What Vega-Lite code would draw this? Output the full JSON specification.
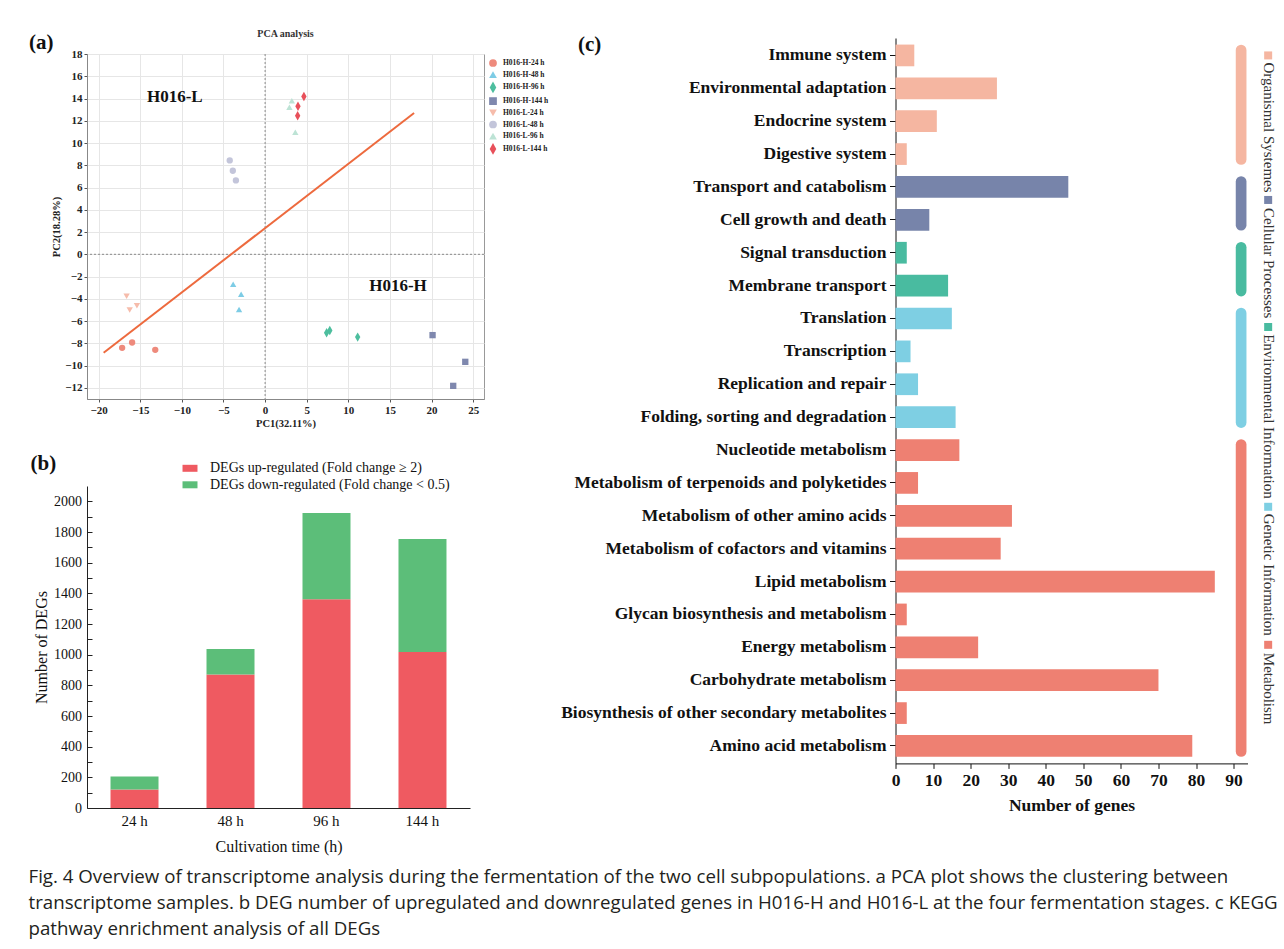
{
  "$schema": "https://vega.github.io/schema/vega-lite/v6.json",
  "background": "white",
  "padding": {"left": 28, "top": 28, "right": 4, "bottom": 4},
  "config": {
    "font": "Liberation Serif",
    "view": {"stroke": null},
    "axis": {"labelColor": "#111", "titleColor": "#111", "domainColor": "#111", "tickColor": "#111", "grid": false, "labelOverlap": false}
  },
  "title": {
    "text": [
      "Fig. 4  Overview of transcriptome analysis during the fermentation of the two cell subpopulations. a PCA plot shows the clustering between",
      "transcriptome samples. b DEG number of upregulated and downregulated genes in H016-H and H016-L at the four fermentation stages. c KEGG",
      "pathway enrichment analysis of all DEGs"
    ],
    "orient": "bottom", "anchor": "start", "frame": "bounds",
    "font": "Open Sans", "fontSize": 18.7, "fontWeight": "normal", "color": "#231f20",
    "lineHeight": 26, "offset": 14
  },
  "align": "none",
  "spacing": 5.5,
  "resolve": {"scale": {"color": "independent", "shape": "independent"}, "legend": {"color": "independent", "shape": "independent"}},
  "hconcat": [
    {
      "spacing": 24,
      "resolve": {"scale": {"color": "independent", "shape": "independent"}, "legend": {"color": "independent", "shape": "independent"}},
      "vconcat": [
        {
          "width": 397, "height": 345,
          "view": {"stroke": "#999"},
          "layer": [
            {
              "data": {"values": [
                {"sample": "H016-H-24 h", "pc1": -17.18, "pc2": -8.40},
                {"sample": "H016-H-24 h", "pc1": -15.98, "pc2": -7.92},
                {"sample": "H016-H-24 h", "pc1": -13.20, "pc2": -8.58},
                {"sample": "H016-H-48 h", "pc1": -3.84, "pc2": -2.68},
                {"sample": "H016-H-48 h", "pc1": -2.88, "pc2": -3.58},
                {"sample": "H016-H-48 h", "pc1": -3.13, "pc2": -4.95},
                {"sample": "H016-H-96 h", "pc1": 7.39, "pc2": -7.05},
                {"sample": "H016-H-96 h", "pc1": 7.77, "pc2": -6.84},
                {"sample": "H016-H-96 h", "pc1": 11.12, "pc2": -7.44},
                {"sample": "H016-H-144 h", "pc1": 20.12, "pc2": -7.26},
                {"sample": "H016-H-144 h", "pc1": 24.05, "pc2": -9.66},
                {"sample": "H016-H-144 h", "pc1": 22.60, "pc2": -11.82},
                {"sample": "H016-L-24 h", "pc1": -16.64, "pc2": -3.76},
                {"sample": "H016-L-24 h", "pc1": -16.27, "pc2": -5.01},
                {"sample": "H016-L-24 h", "pc1": -15.40, "pc2": -4.62},
                {"sample": "H016-L-48 h", "pc1": -4.25, "pc2": 8.44},
                {"sample": "H016-L-48 h", "pc1": -3.88, "pc2": 7.51},
                {"sample": "H016-L-48 h", "pc1": -3.51, "pc2": 6.64},
                {"sample": "H016-L-96 h", "pc1": 3.21, "pc2": 13.80},
                {"sample": "H016-L-96 h", "pc1": 2.92, "pc2": 13.21},
                {"sample": "H016-L-96 h", "pc1": 3.63, "pc2": 10.96},
                {"sample": "H016-L-144 h", "pc1": 4.66, "pc2": 14.19},
                {"sample": "H016-L-144 h", "pc1": 3.95, "pc2": 13.30},
                {"sample": "H016-L-144 h", "pc1": 3.91, "pc2": 12.46}
              ]},
              "mark": {"type": "point", "filled": true, "opacity": 1, "size": 40},
              "encoding": {
                "x": {"field": "pc1", "type": "quantitative",
                  "scale": {"domain": [-21.4, 26.3], "nice": false, "zero": false},
                  "axis": {"title": "PC1(32.11%)", "format": "d", "values": [-20, -15, -10, -5, 0, 5, 10, 15, 20, 25], "tickCount": 100, "labelOverlap": false,
                    "grid": true, "gridColor": "#e6e6e6", "domainColor": "#888", "tickColor": "#555", "tickSize": 3,
                    "labelFontSize": 11, "labelFontWeight": "bold", "labelPadding": 2, "labelFlush": false,
                    "titleFontSize": 10.5, "titleFontWeight": "bold", "titlePadding": 3, "labelColor": "#222", "titleColor": "#222"}},
                "y": {"field": "pc2", "type": "quantitative",
                  "scale": {"domain": [-13, 18], "nice": false, "zero": false},
                  "axis": {"title": "PC2(18.28%)", "format": "d", "values": [-12, -10, -8, -6, -4, -2, 0, 2, 4, 6, 8, 10, 12, 14, 16, 18], "tickCount": 100, "labelOverlap": false,
                    "grid": true, "gridColor": "#e6e6e6", "domainColor": "#888", "tickColor": "#555", "tickSize": 3,
                    "labelFontSize": 11, "labelFontWeight": "bold", "labelPadding": 2,
                    "titleFontSize": 10.5, "titleFontWeight": "bold", "titlePadding": 3, "labelColor": "#222", "titleColor": "#222"}},
                "color": {"field": "sample", "type": "nominal",
                  "scale": {
                    "domain": ["H016-H-24 h", "H016-H-48 h", "H016-H-96 h", "H016-H-144 h", "H016-L-24 h", "H016-L-48 h", "H016-L-96 h", "H016-L-144 h"],
                    "range": ["#EE8A7C", "#7DCCE5", "#4DBE9E", "#7F88AE", "#F6BCAB", "#C3C5DA", "#BDE3D5", "#E8505A"]},
                  "legend": {"title": null, "orient": "right", "offset": 0, "padding": 4, "labelFont": "Liberation Serif",
                    "labelFontWeight": "bold", "labelFontSize": 7.5, "labelColor": "#222", "symbolSize": 60, "rowPadding": 2.7, "labelOffset": 5}},
                "shape": {"field": "sample", "type": "nominal",
                  "scale": {
                    "domain": ["H016-H-24 h", "H016-H-48 h", "H016-H-96 h", "H016-H-144 h", "H016-L-24 h", "H016-L-48 h", "H016-L-96 h", "H016-L-144 h"],
                    "range": ["circle", "triangle-up", "M0,-1.5L0.85,0L0,1.5L-0.85,0Z", "square", "triangle-down", "circle", "triangle-up", "M0,-1.5L0.85,0L0,1.5L-0.85,0Z"]}}
              }
            },
            {
              "data": {"values": [{"zero": 0}]},
              "mark": {"type": "rule", "strokeDash": [2, 2], "color": "#8a8a8a", "strokeWidth": 1},
              "encoding": {"x": {"field": "zero", "type": "quantitative"}}
            },
            {
              "data": {"values": [{"zero": 0}]},
              "mark": {"type": "rule", "strokeDash": [2, 2], "color": "#8a8a8a", "strokeWidth": 1},
              "encoding": {"y": {"field": "zero", "type": "quantitative"}}
            },
            {
              "data": {"values": [{"pc1": -19.4, "pc2": -8.85}, {"pc1": 17.9, "pc2": 12.7}]},
              "mark": {"type": "line", "color": "#ED6A3E", "strokeWidth": 2},
              "encoding": {"x": {"field": "pc1", "type": "quantitative"}, "y": {"field": "pc2", "type": "quantitative"}}
            },
            {
              "data": {"values": [{"pc1": -10.85, "pc2": 14.16, "label": "H016-L"}, {"pc1": 15.97, "pc2": -2.83, "label": "H016-H"}]},
              "mark": {"type": "text", "fontSize": 17, "fontWeight": "bold", "baseline": "middle", "color": "#111"},
              "encoding": {"x": {"field": "pc1", "type": "quantitative"}, "y": {"field": "pc2", "type": "quantitative"}, "text": {"field": "label"}}
            },
            {
              "data": {"values": [{"label": "PCA analysis"}]},
              "mark": {"type": "text", "fontSize": 10, "fontWeight": "bold", "baseline": "middle", "dy": -20, "color": "#333"},
              "encoding": {"x": {"datum": 2.45, "type": "quantitative"}, "y": {"datum": 18, "type": "quantitative"}, "text": {"field": "label"}}
            },
            {
              "data": {"values": [{"label": "(a)"}]},
              "mark": {"type": "text", "fontSize": 21, "fontWeight": "bold", "align": "left", "baseline": "alphabetic", "dx": -58, "dy": -5, "color": "#111"},
              "encoding": {"x": {"datum": -21.4, "type": "quantitative"}, "y": {"datum": 18, "type": "quantitative"}, "text": {"field": "label"}}
            }
          ]
        },
        {
          "width": 383, "height": 322,
          "layer": [
            {
              "data": {"values": [
                {"time": "24 h", "type": "DEGs up-regulated (Fold change ≥ 2)", "count": 120},
                {"time": "24 h", "type": "DEGs down-regulated (Fold change < 0.5)", "count": 85},
                {"time": "48 h", "type": "DEGs up-regulated (Fold change ≥ 2)", "count": 870},
                {"time": "48 h", "type": "DEGs down-regulated (Fold change < 0.5)", "count": 167},
                {"time": "96 h", "type": "DEGs up-regulated (Fold change ≥ 2)", "count": 1361},
                {"time": "96 h", "type": "DEGs down-regulated (Fold change < 0.5)", "count": 563},
                {"time": "144 h", "type": "DEGs up-regulated (Fold change ≥ 2)", "count": 1017},
                {"time": "144 h", "type": "DEGs down-regulated (Fold change < 0.5)", "count": 737}
              ]},
              "mark": {"type": "bar"},
              "encoding": {
                "x": {"field": "time", "type": "nominal", "sort": ["24 h", "48 h", "96 h", "144 h"],
                  "scale": {"paddingInner": 0.5, "paddingOuter": 0.245},
                  "axis": {"title": "Cultivation time (h)", "labelAngle": 0, "ticks": false, "labelFontSize": 15, "labelPadding": 5,
                    "titleFontSize": 16, "titleFontWeight": "normal", "titlePadding": 10, "domainColor": "#222"}},
                "y": {"field": "count", "type": "quantitative", "stack": "zero",
                  "scale": {"domain": [0, 2100], "nice": false},
                  "axis": {"title": "Number of DEGs", "format": "d", "labelOverlap": false, "tickCount": 100,
                    "values": [0, 100, 200, 300, 400, 500, 600, 700, 800, 900, 1000, 1100, 1200, 1300, 1400, 1500, 1600, 1700, 1800, 1900, 2000],
                    "labelExpr": "datum.value % 200 === 0 ? datum.label : ''",
                    "tickSize": -5, "labelPadding": 10.5, "labelFontSize": 14, "titleFontSize": 16, "titleFontWeight": "normal", "titlePadding": 4,
                    "domainColor": "#222", "tickColor": "#222"}},
                "color": {"field": "type", "type": "nominal",
                  "scale": {"domain": ["DEGs up-regulated (Fold change ≥ 2)", "DEGs down-regulated (Fold change < 0.5)"], "range": ["#EF5A61", "#5CBE79"]},
                  "legend": {"title": null, "orient": "none", "legendX": 96, "legendY": -24.7, "padding": 0,
                    "symbolType": "M-1.07,-0.5H1.07V0.5H-1.07Z", "symbolSize": 196, "symbolStrokeWidth": 0,
                    "labelFontSize": 14, "labelOffset": 13, "rowPadding": 2.5, "labelColor": "#111", "labelFont": "Liberation Serif", "labelLimit": 400}},
                "order": {"field": "type", "sort": "descending"}
              }
            },
            {
              "data": {"values": [{"label": "(b)"}]},
              "mark": {"type": "text", "fontSize": 21, "fontWeight": "bold", "align": "left", "baseline": "alphabetic", "dx": -104, "dy": -16, "color": "#111"},
              "encoding": {"x": {"datum": "24 h", "type": "nominal"}, "y": {"datum": 2100, "type": "quantitative"}, "text": {"field": "label"}}
            }
          ]
        }
      ]
    },
    {
      "width": 352, "height": 709.4,
      "layer": [
        {
          "data": {"values": [
            {"pathway": "Immune system", "group": "Organismal Systemes", "genes": 5},
            {"pathway": "Environmental adaptation", "group": "Organismal Systemes", "genes": 27},
            {"pathway": "Endocrine system", "group": "Organismal Systemes", "genes": 11},
            {"pathway": "Digestive system", "group": "Organismal Systemes", "genes": 3},
            {"pathway": "Transport and catabolism", "group": "Cellular Processes", "genes": 46},
            {"pathway": "Cell growth and death", "group": "Cellular Processes", "genes": 9},
            {"pathway": "Signal transduction", "group": "Environmental Information", "genes": 3},
            {"pathway": "Membrane transport", "group": "Environmental Information", "genes": 14},
            {"pathway": "Translation", "group": "Genetic Information", "genes": 15},
            {"pathway": "Transcription", "group": "Genetic Information", "genes": 4},
            {"pathway": "Replication and repair", "group": "Genetic Information", "genes": 6},
            {"pathway": "Folding, sorting and degradation", "group": "Genetic Information", "genes": 16},
            {"pathway": "Nucleotide metabolism", "group": "Metabolism", "genes": 17},
            {"pathway": "Metabolism of terpenoids and polyketides", "group": "Metabolism", "genes": 6},
            {"pathway": "Metabolism of other amino acids", "group": "Metabolism", "genes": 31},
            {"pathway": "Metabolism of cofactors and vitamins", "group": "Metabolism", "genes": 28},
            {"pathway": "Lipid metabolism", "group": "Metabolism", "genes": 85},
            {"pathway": "Glycan biosynthesis and metabolism", "group": "Metabolism", "genes": 3},
            {"pathway": "Energy metabolism", "group": "Metabolism", "genes": 22},
            {"pathway": "Carbohydrate metabolism", "group": "Metabolism", "genes": 70},
            {"pathway": "Biosynthesis of other secondary metabolites", "group": "Metabolism", "genes": 3},
            {"pathway": "Amino acid metabolism", "group": "Metabolism", "genes": 79}
          ]},
          "mark": {"type": "bar"},
          "encoding": {
            "y": {"field": "pathway", "type": "nominal", "sort": null,
              "scale": {"domain": ["Immune system", "Environmental adaptation", "Endocrine system", "Digestive system", "Transport and catabolism", "Cell growth and death", "Signal transduction", "Membrane transport", "Translation", "Transcription", "Replication and repair", "Folding, sorting and degradation", "Nucleotide metabolism", "Metabolism of terpenoids and polyketides", "Metabolism of other amino acids", "Metabolism of cofactors and vitamins", "Lipid metabolism", "Glycan biosynthesis and metabolism", "Energy metabolism", "Carbohydrate metabolism", "Biosynthesis of other secondary metabolites", "Amino acid metabolism"],
                "range": [-16, 709.4], "paddingInner": 0.34, "paddingOuter": 0.2},
              "axis": {"title": null, "labelFontSize": 17.5, "labelFontWeight": "bold", "labelPadding": 3.5, "tickSize": 6, "labelLimit": 400, "labelOverlap": false,
                "domainColor": "#111", "tickColor": "#111", "labelColor": "#111"}},
            "x": {"field": "genes", "type": "quantitative",
              "scale": {"domain": [0, 93.7], "nice": false},
              "axis": {"title": "Number of genes", "format": "d", "values": [0, 10, 20, 30, 40, 50, 60, 70, 80, 90], "tickCount": 100, "labelFlush": false, "labelOverlap": false,
                "labelFontSize": 17.5, "labelFontWeight": "bold", "titleFontSize": 17.5, "titleFontWeight": "bold",
                "tickSize": 5, "labelPadding": 3, "titlePadding": 8, "domainColor": "#111", "tickColor": "#111"}},
            "color": {"field": "group", "type": "nominal",
              "scale": {"domain": ["Organismal Systemes", "Cellular Processes", "Environmental Information", "Genetic Information", "Metabolism"],
                "range": ["#F5B6A1", "#7784AA", "#49BBA0", "#7ECFE3", "#EE8072"]},
              "legend": null}
          }
        },
        {
          "data": {"values": [
            {"group": "Organismal Systemes", "first": "Immune system", "last": "Digestive system"},
            {"group": "Cellular Processes", "first": "Transport and catabolism", "last": "Cell growth and death"},
            {"group": "Environmental Information", "first": "Signal transduction", "last": "Membrane transport"},
            {"group": "Genetic Information", "first": "Translation", "last": "Folding, sorting and degradation"},
            {"group": "Metabolism", "first": "Nucleotide metabolism", "last": "Amino acid metabolism"}
          ]},
          "mark": {"type": "rule", "strokeWidth": 10.7, "strokeCap": "round"},
          "encoding": {
            "x": {"datum": 92, "type": "quantitative", "scale": {"domain": [0, 93.7], "nice": false}},
            "y": {"field": "first", "type": "nominal", "bandPosition": 0.25, "title": null},
            "y2": {"field": "last", "bandPosition": 0.75},
            "color": {"field": "group", "type": "nominal", "legend": null}
          }
        },
        {
          "data": {"values": [{"label": "(c)"}]},
          "mark": {"type": "text", "fontSize": 21, "fontWeight": "bold", "align": "left", "baseline": "alphabetic", "dx": -317.5, "dy": -4, "color": "#111"},
          "encoding": {"x": {"datum": 0, "type": "quantitative", "scale": {"domain": [0, 93.7], "nice": false}}, "y": {"datum": "Immune system", "type": "nominal"}, "text": {"field": "label"}}
        },
        {
          "data": {"values": [{"group": "Organismal Systemes"}]},
          "mark": {"type": "point", "shape": "square", "filled": true, "opacity": 1, "size": 64, "yOffset": 0},
          "encoding": {"x": {"datum": 99.2, "type": "quantitative", "scale": {"domain": [0, 93.7], "nice": false}}, "y": {"datum": "Immune system", "type": "nominal"}, "color": {"field": "group", "type": "nominal", "legend": null}}
        },
        {
          "data": {"values": [{"group": "Cellular Processes"}]},
          "mark": {"type": "point", "shape": "square", "filled": true, "opacity": 1, "size": 64, "yOffset": 13},
          "encoding": {"x": {"datum": 99.2, "type": "quantitative", "scale": {"domain": [0, 93.7], "nice": false}}, "y": {"datum": "Transport and catabolism", "type": "nominal"}, "color": {"field": "group", "type": "nominal", "legend": null}}
        },
        {
          "data": {"values": [{"group": "Environmental Information"}]},
          "mark": {"type": "point", "shape": "square", "filled": true, "opacity": 1, "size": 64, "yOffset": 8.5},
          "encoding": {"x": {"datum": 99.2, "type": "quantitative", "scale": {"domain": [0, 93.7], "nice": false}}, "y": {"datum": "Translation", "type": "nominal"}, "color": {"field": "group", "type": "nominal", "legend": null}}
        },
        {
          "data": {"values": [{"group": "Genetic Information"}]},
          "mark": {"type": "point", "shape": "square", "filled": true, "opacity": 1, "size": 64, "yOffset": -9},
          "encoding": {"x": {"datum": 99.2, "type": "quantitative", "scale": {"domain": [0, 93.7], "nice": false}}, "y": {"datum": "Metabolism of other amino acids", "type": "nominal"}, "color": {"field": "group", "type": "nominal", "legend": null}}
        },
        {
          "data": {"values": [{"group": "Metabolism"}]},
          "mark": {"type": "point", "shape": "square", "filled": true, "opacity": 1, "size": 64, "yOffset": -2.5},
          "encoding": {"x": {"datum": 99.2, "type": "quantitative", "scale": {"domain": [0, 93.7], "nice": false}}, "y": {"datum": "Energy metabolism", "type": "nominal"}, "color": {"field": "group", "type": "nominal", "legend": null}}
        },
        {
          "data": {"values": [{"label": "Organismal Systemes"}]},
          "mark": {"type": "text", "angle": 90, "align": "left", "baseline": "middle", "dx": 7, "fontSize": 15, "color": "#333"},
          "encoding": {"x": {"datum": 99.4, "type": "quantitative", "scale": {"domain": [0, 93.7], "nice": false}}, "y": {"datum": "Immune system", "type": "nominal"}, "text": {"field": "label"}}
        },
        {
          "data": {"values": [{"label": "Cellular Processes"}]},
          "mark": {"type": "text", "angle": 90, "align": "left", "baseline": "middle", "dx": 21, "fontSize": 15, "color": "#333"},
          "encoding": {"x": {"datum": 99.4, "type": "quantitative", "scale": {"domain": [0, 93.7], "nice": false}}, "y": {"datum": "Transport and catabolism", "type": "nominal"}, "text": {"field": "label"}}
        },
        {
          "data": {"values": [{"label": "Environmental Information"}]},
          "mark": {"type": "text", "angle": 90, "align": "left", "baseline": "middle", "dx": 15.7, "fontSize": 15, "color": "#333"},
          "encoding": {"x": {"datum": 99.4, "type": "quantitative", "scale": {"domain": [0, 93.7], "nice": false}}, "y": {"datum": "Translation", "type": "nominal"}, "text": {"field": "label"}}
        },
        {
          "data": {"values": [{"label": "Genetic Information"}]},
          "mark": {"type": "text", "angle": 90, "align": "left", "baseline": "middle", "dx": -2, "fontSize": 15, "color": "#333"},
          "encoding": {"x": {"datum": 99.4, "type": "quantitative", "scale": {"domain": [0, 93.7], "nice": false}}, "y": {"datum": "Metabolism of other amino acids", "type": "nominal"}, "text": {"field": "label"}}
        },
        {
          "data": {"values": [{"label": "Metabolism"}]},
          "mark": {"type": "text", "angle": 90, "align": "left", "baseline": "middle", "dx": 5.5, "fontSize": 15, "color": "#333"},
          "encoding": {"x": {"datum": 99.4, "type": "quantitative", "scale": {"domain": [0, 93.7], "nice": false}}, "y": {"datum": "Energy metabolism", "type": "nominal"}, "text": {"field": "label"}}
        }
      ]
    }
  ]
}
